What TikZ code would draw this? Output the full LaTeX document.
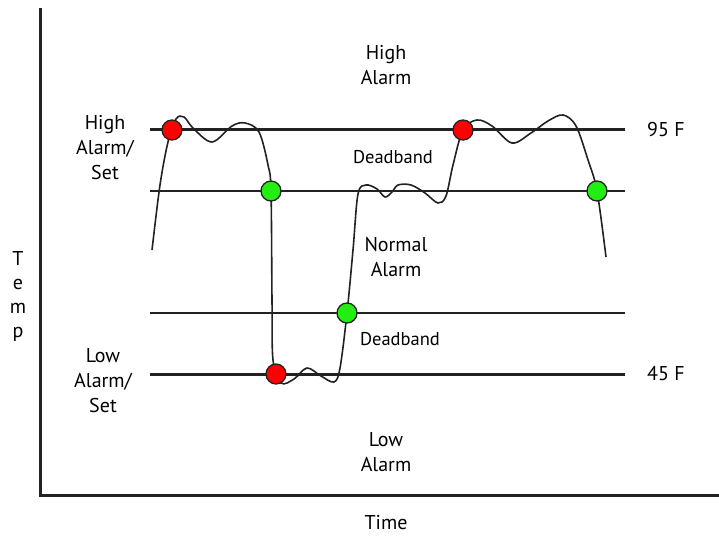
\documentclass[tikz,border=0pt]{standalone}
\usepackage{fontspec}
\setmainfont{PT Sans}
\usetikzlibrary{positioning}
\definecolor{linegray}{HTML}{222222}
\definecolor{alarmred}{HTML}{FF0000}
\definecolor{alarmgreen}{HTML}{22EE11}

\begin{document}
\begin{tikzpicture}[x=1pt, y=-1pt, zone/.style={align=center, inner sep=0pt, font=\fontsize{20}{25}\selectfont}, band/.style={inner sep=0pt, font=\fontsize{18.5}{20}\selectfont}, setline/.style={draw=linegray, line width=#1}, marker/.style={circle, draw=linegray, line width=1.3pt, minimum size=20pt, inner sep=0pt, fill=#1}]

\useasboundingbox (0,0) rectangle (719,537);

% AXES

\coordinate (axis-top) at (40,8);
\coordinate (axis-origin) at (40,495);
\coordinate (axis-right) at (719,495);
\draw [setline=3pt] (axis-top) -- (axis-origin) -- (axis-right);

% SET LINES

\coordinate (high-set-west) at (150,130);
\coordinate (high-set-east) at (625,130);
\coordinate (high-reset-west) at (150,191);
\coordinate (high-reset-east) at (625,191);
\coordinate (low-reset-west) at (150,313);
\coordinate (low-reset-east) at (625,313);
\coordinate (low-set-west) at (150,374);
\coordinate (low-set-east) at (625,374);

\draw [setline=3pt] (high-set-west) -- (high-set-east);
\draw [setline=1.6pt] (high-reset-west) -- (high-reset-east);
\draw [setline=1.6pt] (low-reset-west) -- (low-reset-east);
\draw [setline=3pt] (low-set-west) -- (low-set-east);

% TEMPERATURE

\draw [linegray, line width=1.6pt] plot [smooth, tension=0.55] coordinates {
(152,250) (160,185) (168,142) (176,119) (184,117) (193,128) (212,142) (232,126) (245,123) (259,132) (268,165) (271,191)
(272,300) (273,360) (281,383) (294,379) (307,368) (321,376) (334,382) (340,368) (347,313)
(353,250) (358,194) (366,185) (377,189) (385,197) (392,192) (398,185) (411,185) (425,193) (438,203) (446,196) (453,165) (463,130)
(477,120) (492,126) (512,143) (531,133) (548,121) (563,115) (576,126) (588,160) (597,191) (606,257)
};

% MARKERS

\node [marker=alarmred] (trip-high-a) at (172,130) {};
\node [marker=alarmgreen] (clear-high-a) at (271,191) {};
\node [marker=alarmred] (trip-low) at (276,374) {};
\node [marker=alarmgreen] (clear-low) at (347,313) {};
\node [marker=alarmred] (trip-high-b) at (463,130) {};
\node [marker=alarmgreen] (clear-high-b) at (597,191) {};

% LABELS

\node [zone] (high-alarm) at (386,65) {High\\Alarm};
\node [zone] (high-set) at (105,148) {High\\Alarm/\\Set};
\node [zone, right=22pt of high-set-east] (high-value) {95 F};
\node [band] (high-band) at (393,157) {Deadband};
\node [zone] (normal-alarm) at (396,257) {Normal\\Alarm};
\node [band] (low-band) at (400,339) {Deadband};
\node [zone] (low-set) at (103,381) {Low\\Alarm/\\Set};
\node [zone, right=22pt of low-set-east] (low-value) {45 F};
\node [zone] (low-alarm) at (386,452) {Low\\Alarm};
\node [zone, font=\fontsize{20}{24}\selectfont] (temp-axis) at (18,296) {T\\e\\m\\p};
\node [zone] (time-axis) at (386,523) {Time};

\end{tikzpicture}
\end{document}
